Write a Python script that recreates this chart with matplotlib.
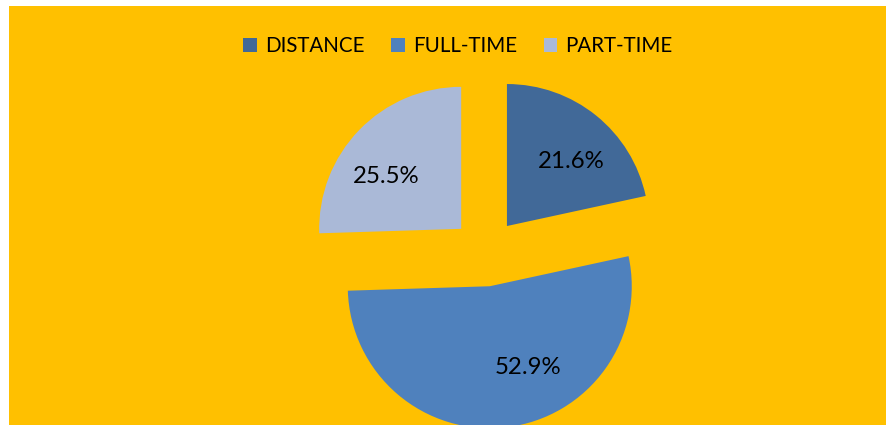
import matplotlib
matplotlib.use('Agg')
import numpy as np
import matplotlib.pyplot as plt
from matplotlib.patches import Rectangle

plt.rcParams['font.family'] = ['Lato', 'DejaVu Sans']

# data
categories = ['DISTANCE', 'FULL-TIME', 'PART-TIME']
shares = [21.6, 52.9, 25.5]
colors = ['#416998', '#4F81BD', '#AAB9D7']

# label placement (angle in degrees, distance in radii) from each wedge tip
label_angles = [46, -64, 144]
label_dists = [0.655, 0.62, 0.653]

fig = plt.figure(figsize=(8.86, 4.25), dpi=100)
ax = fig.add_axes([0, 0, 1, 1])

# explode is in data units here (pixels), radius 142 px
wedges, texts, pcts = ax.pie(shares, colors=colors, startangle=90, counterclock=False,
                             explode=[34] * 3, radius=142, center=(485.6, 172.5),
                             autopct='%.1f%%', pctdistance=0.65,
                             wedgeprops=dict(linewidth=0),
                             textprops=dict(fontsize=17.3, color='black'))

for w, t, a, d in zip(wedges, pcts, label_angles, label_dists):
    cx, cy = w.center
    r = w.r * d
    t.set_position((cx + r * np.cos(np.radians(a)), cy + r * np.sin(np.radians(a))))
    t.set_va('center_baseline')

ax.set_xlim(0, 886)
ax.set_ylim(0, 425)
ax.axis('off')

# chart area background
ax.add_patch(Rectangle((9, 0), 877, 419, facecolor='#FFC000', edgecolor='none', zorder=0))

ax.legend(wedges, categories, loc='center', bbox_to_anchor=(458 / 886, 1 - 46 / 425),
          ncol=3, frameon=False, fontsize=14.8, handlelength=0.65, handleheight=0.65,
          handletextpad=0.4, columnspacing=1.3, borderpad=0)

fig.savefig('out.png', dpi=100)
